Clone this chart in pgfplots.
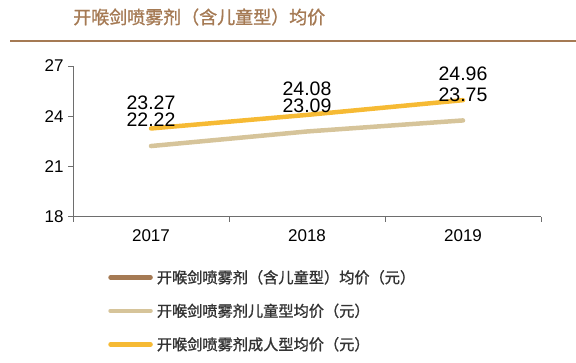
\documentclass[border=0pt]{standalone}
\usepackage{fontspec}
\setmainfont{Liberation Sans}
\newfontfamily\cjk{Noto Sans CJK SC}
\newfontfamily\cjktitle[FakeBold=1.2]{Noto Sans CJK SC}
\usepackage{pgfplots}
\pgfplotsset{compat=1.18}
\definecolor{cbrown}{RGB}{165,122,84}
\definecolor{cbeige}{RGB}{214,196,154}
\definecolor{corange}{RGB}{246,186,52}
\definecolor{caxis}{RGB}{110,110,110}
\begin{document}
\begin{tikzpicture}[x=1bp,y=1bp]
\path[use as bounding box] (0,0) rectangle (576,362);
\node[anchor=west, text=cbrown, inner sep=0pt, font=\cjktitle\fontsize{18bp}{20bp}\selectfont] at (73,345) {开喉剑喷雾剂（含儿童型）均价};
\draw[cbrown, line width=2.2bp] (10,321) -- (576,321);
\begin{axis}[
  at={(73bp,145.3bp)}, anchor=south west,
  scale only axis, width=468bp, height=150.7bp,
  xmin=-0.5, xmax=2.5, ymin=18, ymax=27,
  xtick={-0.5,0.5,1.5,2.5}, xticklabels={},
  extra x ticks={0,1,2}, extra x tick labels={2017,2018,2019},
  extra x tick style={tick style={draw=none}},
  ytick={18,21,24,27},
  axis x line*=bottom, axis y line*=left,
  axis line style={draw=caxis, line width=0.8bp, -},
  tick style={draw=caxis, line width=0.8bp},
  tick align=outside,
  major tick length=5bp,
  x tick label style={font=\fontsize{17bp}{18bp}\selectfont, yshift=-4bp},
  y tick label style={font=\fontsize{17bp}{18bp}\selectfont, xshift=-1bp},
  /pgf/number format/assume math mode=true,
  clip=false,
  nodes near coords,
  nodes near coords style={font=\fontsize{19.5bp}{20bp}\selectfont, text=black, anchor=center, yshift=26bp,
    /pgf/number format/.cd, fixed, precision=2, fixed zerofill, assume math mode=true},
  legend style={at={(axis description cs:0.075,-0.34)}, anchor=north west, draw=none,
    font=\cjktitle\fontsize{15.2bp}{16bp}\selectfont, text=black!80, row sep=15bp, inner sep=0pt,
    nodes={inner xsep=4bp}},
  legend cell align=left,
  legend image code/.code={\draw[#1, line width=4.5bp, line cap=round] (0bp,0bp) -- (40bp,0bp);},
]
\addlegendimage{cbrown}
\addlegendentry{开喉剑喷雾剂（含儿童型）均价（元）}
\addplot[cbeige, line width=4.5bp, line cap=round, mark=none] coordinates {(0,22.22) (1,23.09) (2,23.75)};
\addlegendentry{开喉剑喷雾剂儿童型均价（元）}
\addplot[corange, line width=4.5bp, line cap=round, mark=none] coordinates {(0,23.27) (1,24.08) (2,24.96)};
\addlegendentry{开喉剑喷雾剂成人型均价（元）}
\end{axis}
\end{tikzpicture}
\end{document}
